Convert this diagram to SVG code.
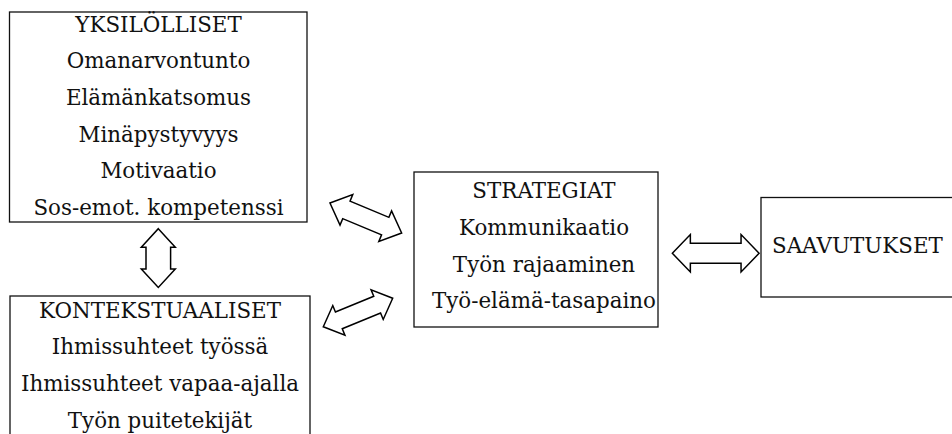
<svg xmlns="http://www.w3.org/2000/svg" width="952" height="434" viewBox="0 0 952 434">
<style>
.box{fill:#fff;stroke:#111;stroke-width:1.3}
.t{font-family:"DejaVu Serif","Liberation Serif",serif;font-size:21.4px;fill:#111;text-anchor:middle}
.arr{fill:#fff;stroke:#000;stroke-width:1.5;stroke-linejoin:miter}
</style>
<rect x="0" y="0" width="952" height="434" fill="#fff"/>
<g id="yksilolliset">
<rect class="box" x="9.5" y="12" width="297.5" height="210"/>
<text class="t" x="158.5" y="31.7">YKSILÖLLISET</text>
<text class="t" x="158.5" y="68.3">Omanarvontunto</text>
<text class="t" x="158.5" y="105">Elämänkatsomus</text>
<text class="t" x="158.5" y="141.7">Minäpystyvyys</text>
<text class="t" x="158.5" y="178.3">Motivaatio</text>
<text class="t" x="158.5" y="215">Sos-emot. kompetenssi</text>
</g>
<g id="kontekstuaaliset">
<rect class="box" x="10" y="296" width="300" height="150"/>
<text class="t" x="160" y="317.7">KONTEKSTUAALISET</text>
<text class="t" x="160" y="354.3">Ihmissuhteet työssä</text>
<text class="t" x="160" y="391">Ihmissuhteet vapaa-ajalla</text>
<text class="t" x="160" y="427.7">Työn puitetekijät</text>
</g>
<g id="strategiat">
<rect class="box" x="414" y="172" width="244" height="155"/>
<text class="t" x="544" y="198.3">STRATEGIAT</text>
<text class="t" x="544" y="235">Kommunikaatio</text>
<text class="t" x="544" y="271.7">Työn rajaaminen</text>
<text class="t" x="544" y="308.3">Työ-elämä-tasapaino</text>
</g>
<g id="saavutukset">
<rect class="box" x="761" y="197.5" width="200" height="99.5"/>
<text class="t" x="772" y="253.3" style="text-anchor:start">SAAVUTUKSET</text>
</g>
<g id="connectors">
<path class="arr" transform="translate(158.3,258.1) rotate(90)" d="M-29.4 0 L-10.9 -17 L-10.9 -12.3 L10.9 -12.3 L10.9 -17 L29.4 0 L10.9 17 L10.9 12.3 L-10.9 12.3 L-10.9 17 Z"/>
<path class="arr" transform="translate(365.8,218) rotate(22.7)" d="M-38.85 0 L-21.05 -16.5 L-21.05 -9.5 L21.05 -9.5 L21.05 -16.5 L38.85 0 L21.05 16.5 L21.05 9.5 L-21.05 9.5 L-21.05 16.5 Z"/>
<path class="arr" transform="translate(358,312.5) rotate(-22.3)" d="M-37.5 0 L-20.7 -16 L-20.7 -9 L20.7 -9 L20.7 -16 L37.5 0 L20.7 16 L20.7 9 L-20.7 9 L-20.7 16 Z"/>
<path class="arr" transform="translate(715.7,253.3)" d="M-43.35 0 L-25.35 -18.7 L-25.35 -10 L25.35 -10 L25.35 -18.7 L43.35 0 L25.35 18.7 L25.35 10 L-25.35 10 L-25.35 18.7 Z"/>
</g>
</svg>
